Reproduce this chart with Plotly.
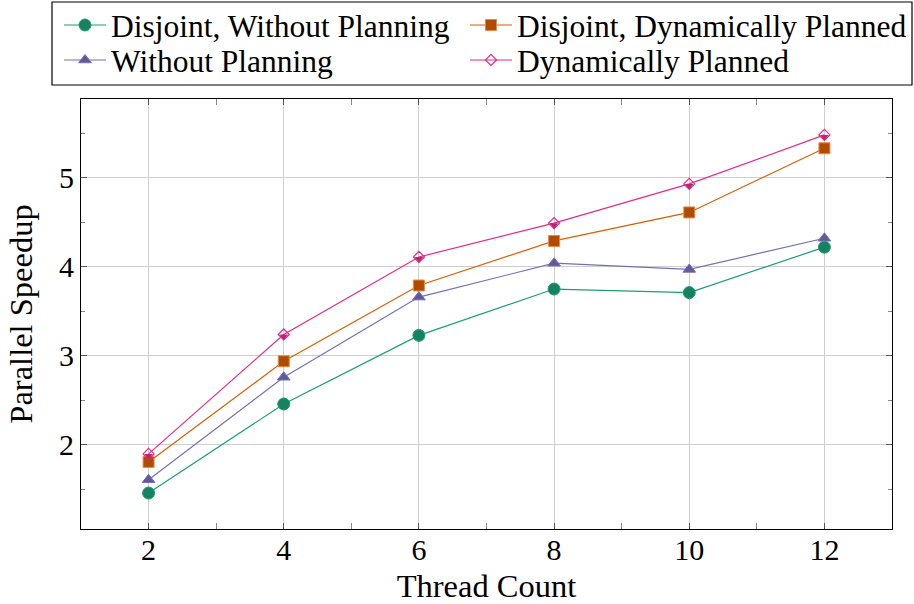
import plotly.graph_objects as go

threads = [2, 4, 6, 8, 10, 12]
disjoint_without = [1.46, 2.46, 3.23, 3.75, 3.71, 4.22]
disjoint_dynamic = [1.81, 2.94, 3.79, 4.29, 4.61, 5.33]
without_planning = [1.61, 2.76, 3.66, 4.04, 3.97, 4.32]
dynamic_planned = [1.90, 3.24, 4.11, 4.49, 4.93, 5.48]

FONT = "Liberation Serif"
LEG_FS = 31.5
TITLE_FS = 32.5
TICK_FS = 30
YR = [1.057, 5.883]
SHIFT = 0.022

# plot area in pixels: x 81..892, y 99..529
PL, PR, PT, PB = 81, 892, 99, 529
def px_x(p):
    return (p - PL) / (PR - PL)
def px_y(p):
    return (PB - p) / (PB - PT)

fig = go.Figure()
fig.add_trace(go.Scatter(x=threads, y=disjoint_without, name="Disjoint, Without Planning",
    legend="legend", mode="lines+markers", line=dict(color="#1b9e77", width=1.2),
    marker=dict(symbol="circle", size=12, color="#168260", line=dict(color="#1b9e77", width=1))))
fig.add_trace(go.Scatter(x=threads, y=disjoint_dynamic, name="Disjoint, Dynamically Planned",
    legend="legend2", mode="lines+markers", line=dict(color="#d95f02", width=1.2),
    marker=dict(symbol="square", size=11, color="#b04c02", line=dict(color="#e88a45", width=1))))
fig.add_trace(go.Scatter(x=threads, y=without_planning, name="Without Planning",
    legend="legend3", mode="lines+markers", line=dict(color="#7570b3", width=1.2),
    marker=dict(symbol="triangle-up", size=11, color="#5f5a9a", line=dict(color="#7570b3", width=1))))
fig.add_trace(go.Scatter(x=threads, y=dynamic_planned, name="Dynamically Planned",
    legend="legend4", mode="lines+markers", line=dict(color="#e7298a", width=1.2),
    marker=dict(symbol="diamond-open", size=8.5, color="#e7298a", line=dict(color="#e7298a", width=1.2))))
# lower half fill of the diamond markers
fig.add_trace(go.Scatter(x=threads, y=dynamic_planned, yaxis="y2", showlegend=False,
    mode="markers", hoverinfo="skip",
    marker=dict(symbol="triangle-down", size=7.3, color="#c0226f", line=dict(width=0))))

def leg(xpx, ypx):
    return dict(x=px_x(xpx), xanchor="left", y=px_y(ypx), yanchor="middle",
                orientation="v", borderwidth=0, bgcolor="rgba(0,0,0,0)",
                font=dict(family=FONT, size=LEG_FS, color="black"), itemwidth=42)

fig.update_layout(
    width=914, height=604,
    margin=dict(l=PL, r=914 - PR, t=PT, b=604 - PB, autoexpand=False),
    paper_bgcolor="white", plot_bgcolor="white",
    font=dict(family=FONT, size=TICK_FS, color="black"),
    showlegend=True,
    legend=leg(59, 25),
    legend2=leg(465, 25),
    legend3=leg(59, 60),
    legend4=leg(465, 60),
    shapes=[dict(type="rect", xref="paper", yref="paper",
                 x0=px_x(52), x1=px_x(912), y0=px_y(85), y1=px_y(2),
                 line=dict(color="black", width=1.2), fillcolor="rgba(0,0,0,0)", layer="below")],
    xaxis=dict(range=[1, 13], tickvals=threads, ticks="inside", ticklen=6, tickcolor="#555",
               showline=True, linecolor="black", linewidth=1.2, mirror="allticks",
               showgrid=True, gridcolor="#cfcfcf", gridwidth=1, zeroline=False,
               tickfont=dict(size=TICK_FS), ticklabelstandoff=-6,
               minor=dict(dtick=1, tick0=1, ticks="inside", ticklen=4, tickcolor="#888", showgrid=False),
               title=dict(text="Thread Count", font=dict(size=TITLE_FS), standoff=12)),
    yaxis=dict(range=YR, tickvals=[2, 3, 4, 5], ticks="inside", ticklen=6, tickcolor="#555",
               showline=True, linecolor="black", linewidth=1.2, mirror="allticks",
               showgrid=True, gridcolor="#cfcfcf", gridwidth=1, zeroline=False,
               tickfont=dict(size=TICK_FS),
               minor=dict(dtick=0.5, tick0=0, ticks="inside", ticklen=4, tickcolor="#888", showgrid=False),
               title=dict(text="Parallel Speedup", font=dict(size=TITLE_FS), standoff=16)),
    yaxis2=dict(range=[YR[0] + SHIFT, YR[1] + SHIFT], overlaying="y", visible=False),
)

fig.write_html("out.html")
